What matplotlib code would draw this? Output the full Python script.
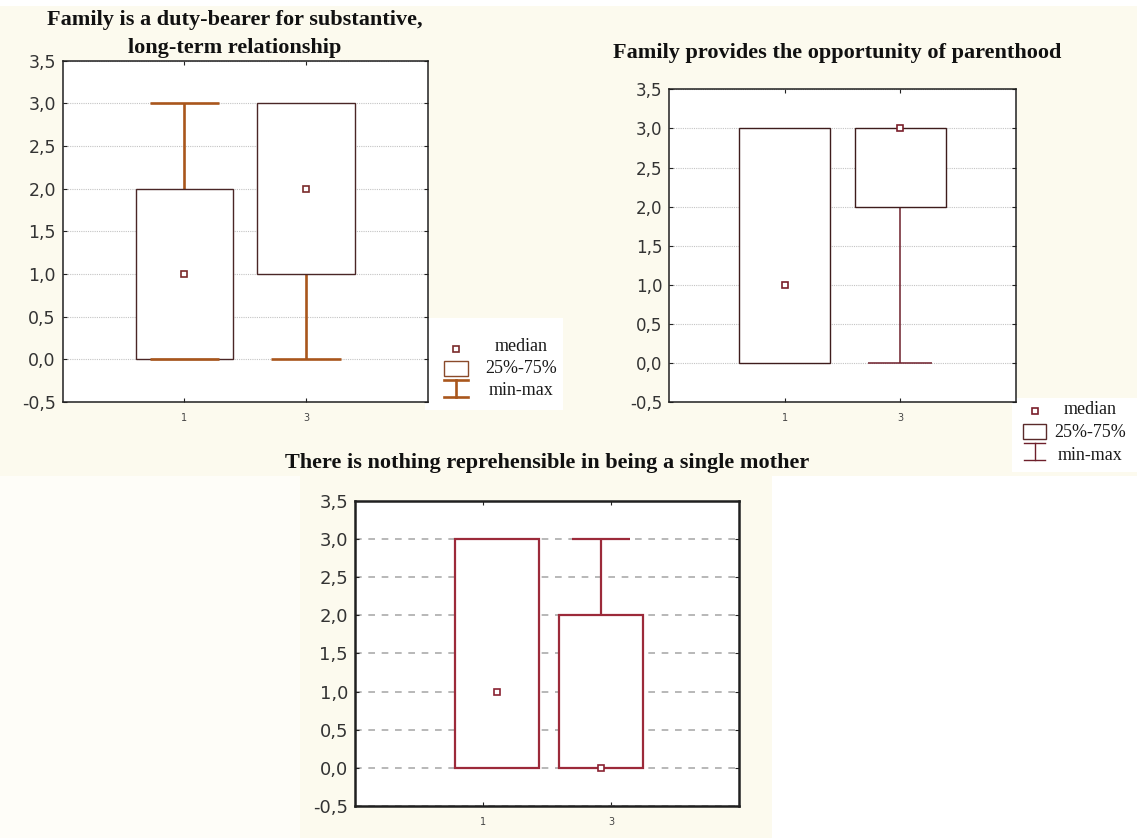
import matplotlib
matplotlib.use("Agg")
import matplotlib.pyplot as plt
from matplotlib.patches import Rectangle
from matplotlib.lines import Line2D
from matplotlib.ticker import FuncFormatter

# ---- data -------------------------------------------------------------
group_labels = ["1", "3"]

duty_min = [0, 0]
duty_q1 = [0, 1]
duty_med = [1, 2]
duty_q3 = [2, 3]
duty_max = [3, 3]

parent_min = [0, 0]
parent_q1 = [0, 2]
parent_med = [1, 3]
parent_q3 = [3, 3]
parent_max = [3, 3]

single_min = [0, 0]
single_q1 = [0, 0]
single_med = [1, 0]
single_q3 = [3, 2]
single_max = [3, 3]

y_ticks = [-0.5, 0.0, 0.5, 1.0, 1.5, 2.0, 2.5, 3.0, 3.5]

title_duty = ["Family is a duty-bearer for substantive,", "long-term relationship"]
title_parent = "Family provides the opportunity of parenthood"
title_single = "There is nothing reprehensible in being a single mother"
legend_labels = ["median", "25%-75%", "min-max"]

# ---- figure -----------------------------------------------------------
W, H = 1137, 838
fig = plt.figure(figsize=(W / 100, H / 100), dpi=100, facecolor="white")

CREAM = "#FCFAEE"


def fx(x):
    return x / W


def fy(y):
    return 1 - y / H


def px_rect(x0, y0, x1, y1, color, z=-2):
    fig.patches.append(Rectangle((fx(x0), fy(y1)), (x1 - x0) / W, (y1 - y0) / H,
                                 transform=fig.transFigure, facecolor=color,
                                 edgecolor="none", zorder=z))


# page background
px_rect(0, 6, W, 476, CREAM)
px_rect(0, 476, 772, H, CREAM)
px_rect(0, 476, 300, H, "#FEFDF8")

comma = FuncFormatter(lambda v, pos: f"{v:.1f}".replace(".", ","))


def draw_panel(rect, mins, q1s, meds, q3s, maxs, positions, box_w, cap_w,
               box_color, whisk_color, med_color, box_lw, whisk_lw, spine_lw,
               grid_style, grid_color, grid_lw, ylab_size, raised_caps=()):
    ax = fig.add_axes(rect)
    ax.set_facecolor("white")
    ax.set_xlim(-1, 2)
    ax.set_ylim(-0.5, 3.5)
    stats = [dict(med=m, q1=a, q3=b, whislo=lo, whishi=hi, fliers=[])
             for lo, a, m, b, hi in zip(mins, q1s, meds, q3s, maxs)]
    parts = ax.bxp(stats, positions=positions, widths=box_w, capwidths=cap_w,
                   patch_artist=True, showfliers=False, manage_ticks=False,
                   boxprops=dict(facecolor="white", edgecolor=box_color,
                                 linewidth=box_lw, zorder=3),
                   whiskerprops=dict(color=whisk_color, linewidth=whisk_lw,
                                     solid_capstyle="butt", zorder=2),
                   capprops=dict(color=whisk_color, linewidth=whisk_lw,
                                 solid_capstyle="butt", zorder=2),
                   medianprops=dict(linestyle="none"))
    # caps sitting exactly on a box edge are hidden behind it,
    # except the ones listed in raised_caps which are drawn over the box
    edges = []
    for a, b in zip(q1s, q3s):
        edges += [a, b]
    ends = []
    for lo, hi in zip(mins, maxs):
        ends += [lo, hi]
    for i, cap in enumerate(parts["caps"]):
        if i in raised_caps:
            cap.set_zorder(4)
        elif ends[i] == edges[i]:
            cap.set_visible(False)
    ax.plot(positions, meds, linestyle="none", marker="s", markersize=4.3,
            markerfacecolor="white", markeredgecolor=med_color,
            markeredgewidth=1.2, zorder=5)

    ax.set_yticks(y_ticks)
    ax.yaxis.set_major_formatter(comma)
    ax.set_xticks([0, 1])
    ax.set_xticklabels(group_labels)
    ax.yaxis.grid(True, linestyle=grid_style, color=grid_color,
                  linewidth=grid_lw)
    ax.set_axisbelow(True)
    ax.tick_params(axis="y", direction="in", length=3, right=True,
                   labelsize=ylab_size, pad=5, colors="#222222",
                   labelcolor="#333333")
    ax.tick_params(axis="x", direction="in", length=3, top=True,
                   labelsize=7, pad=8, colors="#222222",
                   labelcolor="#444444")
    for s in ax.spines.values():
        s.set_linewidth(spine_lw)
        s.set_color("#202020")
    return ax


# panel: duty-bearer
draw_panel([62.7 / W, 1 - 401.8 / H, 365 / W, 341.1 / H],
           duty_min, duty_q1, duty_med, duty_q3, duty_max,
           positions=[0, 1], box_w=0.8, cap_w=0.57,
           box_color="#4A2626", whisk_color="#A9561C", med_color="#7A2A2A",
           box_lw=1.0, whisk_lw=1.9, spine_lw=1.1,
           grid_style=(0, (1, 1)), grid_color="#C4C4C4", grid_lw=0.8,
           ylab_size=12.5, raised_caps=(0,))

# panel: parenthood
draw_panel([669.3 / W, 1 - 402.3 / H, 346.4 / W, 313 / H],
           parent_min, parent_q1, parent_med, parent_q3, parent_max,
           positions=[0, 1], box_w=0.79, cap_w=0.555,
           box_color="#3E1C1C", whisk_color="#6E1F2B", med_color="#7A1F2B",
           box_lw=1.0, whisk_lw=1.1, spine_lw=1.1,
           grid_style=(0, (1, 1)), grid_color="#C4C4C4", grid_lw=0.8,
           ylab_size=12)

# panel: single mother
draw_panel([355 / W, 1 - 806 / H, 384.3 / W, 305.3 / H],
           single_min, single_q1, single_med, single_q3, single_max,
           positions=[0.11, 0.92], box_w=0.655, cap_w=0.455,
           box_color="#9C2A3A", whisk_color="#9C2A3A", med_color="#8A2232",
           box_lw=1.6, whisk_lw=1.6, spine_lw=1.8,
           grid_style=(0, (4, 4)), grid_color="#ABABAB", grid_lw=1.2,
           ylab_size=13)

# ---- titles -------------------------------------------------------------
tkw = dict(ha="center", va="baseline", fontfamily="Liberation Serif",
           fontweight="bold", fontsize=16, color="#111111")
fig.text(fx(235), fy(25), title_duty[0], **tkw)
fig.text(fx(235), fy(53), title_duty[1], **tkw)
fig.text(fx(837), fy(58), title_parent, **tkw)
fig.text(fx(547), fy(468), title_single, **tkw)


# ---- legends ------------------------------------------------------------
def draw_legend(bg, marker_xy, box, whisk, text_x, text_ys, color_box,
                color_whisk, color_med, whisk_lw):
    if bg is not None:
        px_rect(*bg, "white", z=-1)
    mx, my = marker_xy
    fig.lines.append(Line2D([fx(mx)], [fy(my)], transform=fig.transFigure,
                            linestyle="none", marker="s", markersize=4.3,
                            markerfacecolor="white", markeredgecolor=color_med,
                            markeredgewidth=1.2, zorder=3))
    bx0, by0, bx1, by1 = box
    fig.patches.append(Rectangle((fx(bx0), fy(by1)), (bx1 - bx0) / W,
                                 (by1 - by0) / H, transform=fig.transFigure,
                                 facecolor="white", edgecolor=color_box,
                                 linewidth=1.0, zorder=3))
    wx0, wx1, wy0, wy1 = whisk
    wc = (wx0 + wx1) / 2
    for xs, ys in (([wx0, wx1], [wy0, wy0]), ([wx0, wx1], [wy1, wy1]),
                   ([wc, wc], [wy0, wy1])):
        fig.lines.append(Line2D([fx(v) for v in xs], [fy(v) for v in ys],
                                transform=fig.transFigure, color=color_whisk,
                                linewidth=whisk_lw, zorder=3))
    for lab, ty in zip(legend_labels, text_ys):
        fig.text(fx(text_x), fy(ty), lab, ha="center", va="center",
                 fontfamily="Liberation Serif", fontsize=13, color="#1A1A1A",
                 zorder=4)


draw_legend((425, 318, 563, 410), (456, 349), (444, 361, 468, 376),
            (444, 468, 380, 397), 521, [346, 368, 390],
            "#8A4A2A", "#A9561C", "#7A2A2A", 1.9)
draw_legend((1012, 398, 1137, 472), (1035, 411), (1023, 424, 1046, 439),
            (1024, 1045, 443, 460), 1090, [409, 432, 455],
            "#5A2A2A", "#6E1F2B", "#7A1F2B", 1.0)

fig.savefig("out.png", dpi=100, facecolor=fig.get_facecolor())
